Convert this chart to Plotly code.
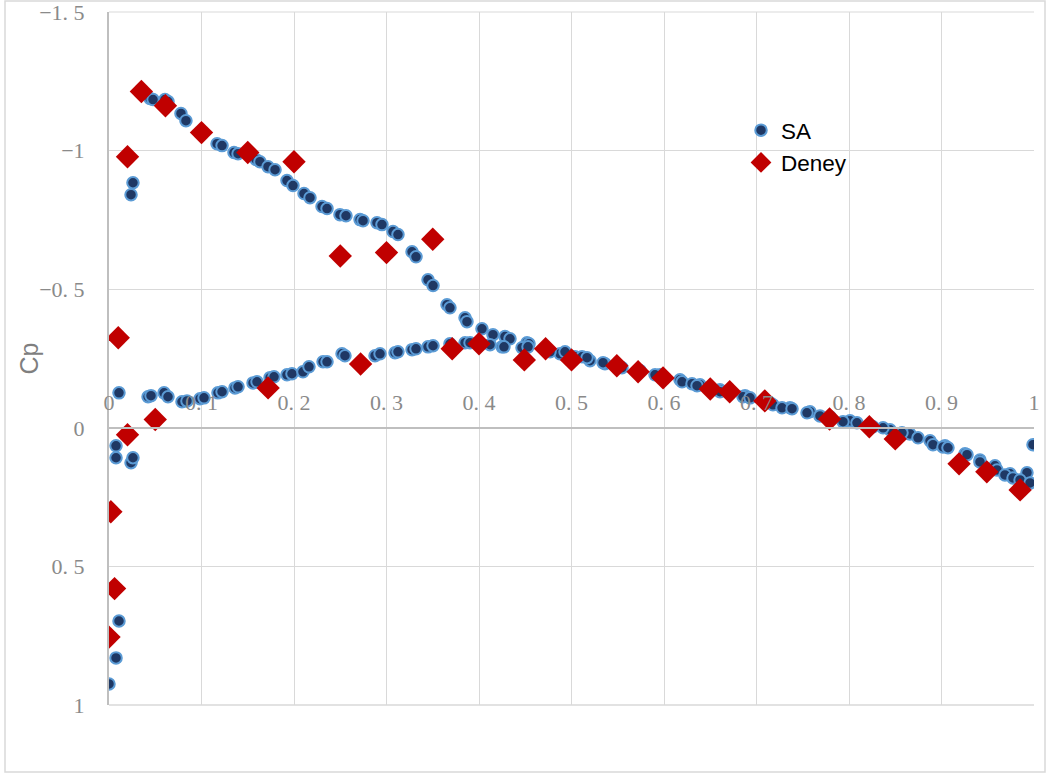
import plotly.graph_objects as go

# ---- pressure coefficient data ----
# SA (CFD) - suction side incl. leading-edge points
sa_upper_x = [0.0, 0.0076, 0.0108, 0.0076, 0.0076, 0.0238, 0.0259, 0.0108, 0.0238, 0.0259,
              0.0443, 0.0476, 0.0605, 0.0638, 0.0778, 0.0832, 0.1168, 0.1222, 0.1351, 0.1395,
              0.1589, 0.1632, 0.1719, 0.1795, 0.1924, 0.1989, 0.2108, 0.2173, 0.2303, 0.2357,
              0.2497, 0.2562, 0.2714, 0.2746, 0.2897, 0.2951, 0.3070, 0.3124, 0.3276, 0.3319,
              0.3449, 0.3503, 0.3654, 0.3686, 0.3849, 0.3870, 0.4032, 0.4151, 0.4281, 0.4335,
              0.4519, 0.4541, 0.4714, 0.4876, 0.5038, 0.5200, 0.5362, 0.5524, 0.5741, 0.5957,
              0.6173, 0.6389, 0.6605, 0.6876, 0.7146, 0.7362, 0.7578, 0.7795, 0.8011, 0.8227,
              0.8443, 0.8659, 0.8876, 0.9038, 0.9254, 0.9416, 0.9578, 0.9741, 0.9924, 0.9989]
sa_upper_cp = [0.924, 0.830, 0.697, 0.065, 0.108, 0.126, 0.108, -0.126, -0.841, -0.884,
               -1.188, -1.184, -1.184, -1.177, -1.134, -1.108, -1.025, -1.018, -0.993, -0.989,
               -0.968, -0.960, -0.942, -0.931, -0.892, -0.874, -0.845, -0.830, -0.798, -0.791,
               -0.769, -0.765, -0.751, -0.747, -0.740, -0.733, -0.708, -0.697, -0.635, -0.617,
               -0.534, -0.513, -0.444, -0.433, -0.397, -0.383, -0.357, -0.336, -0.329, -0.321,
               -0.307, -0.303, -0.282, -0.267, -0.256, -0.242, -0.231, -0.220, -0.206, -0.191,
               -0.173, -0.155, -0.137, -0.116, -0.090, -0.072, -0.058, -0.040, -0.025, -0.007,
               0.007, 0.022, 0.047, 0.065, 0.094, 0.116, 0.137, 0.166, 0.162, 0.061]

# SA (CFD) - pressure side
sa_lower_x = [0.0422, 0.0454, 0.0595, 0.0638, 0.0789, 0.0843, 0.0984, 0.1027, 0.1178, 0.1222,
              0.1362, 0.1395, 0.1557, 0.1600, 0.1741, 0.1784, 0.1924, 0.1978, 0.2097, 0.2162,
              0.2314, 0.2357, 0.2519, 0.2551, 0.2876, 0.2930, 0.3092, 0.3124, 0.3276, 0.3319,
              0.3449, 0.3503, 0.3686, 0.3849, 0.3903, 0.4119, 0.4249, 0.4270, 0.4465, 0.4530,
              0.4768, 0.4930, 0.5114, 0.5168, 0.5341, 0.5546, 0.5741, 0.5903, 0.6195, 0.6303,
              0.6357, 0.6605, 0.6854, 0.6930, 0.7178, 0.7276, 0.7384, 0.7546, 0.7686, 0.7935,
              0.8086, 0.8259, 0.8368, 0.8573, 0.8746, 0.8908, 0.9016, 0.9070, 0.9276, 0.9416,
              0.9600, 0.9686, 0.9773, 0.9849, 0.9957]
sa_lower_cp = [-0.112, -0.116, -0.126, -0.112, -0.094, -0.097, -0.105, -0.108, -0.126, -0.130,
               -0.144, -0.148, -0.162, -0.166, -0.181, -0.184, -0.191, -0.195, -0.202, -0.220,
               -0.238, -0.238, -0.267, -0.260, -0.260, -0.267, -0.271, -0.274, -0.282, -0.285,
               -0.292, -0.296, -0.303, -0.307, -0.307, -0.300, -0.292, -0.292, -0.289, -0.292,
               -0.274, -0.274, -0.256, -0.253, -0.235, -0.217, -0.206, -0.191, -0.166, -0.159,
               -0.152, -0.130, -0.112, -0.108, -0.083, -0.072, -0.069, -0.054, -0.043, -0.022,
               -0.018, -0.004, 0.000, 0.018, 0.036, 0.061, 0.069, 0.072, 0.097, 0.123,
               0.152, 0.170, 0.181, 0.188, 0.199]

# Experiment (Deney)
deney_x = [0.035, 0.061, 0.100, 0.150, 0.200, 0.020, 0.010, 0.250, 0.300, 0.350,
           0.050, 0.020, 0.002, 0.006, 0.000, 0.172, 0.272, 0.371, 0.400, 0.449,
           0.472, 0.500, 0.549, 0.572, 0.599, 0.650, 0.671, 0.709, 0.779, 0.822,
           0.850, 0.919, 0.949, 0.985]
deney_cp = [-1.213, -1.162, -1.065, -0.993, -0.960, -0.978, -0.325, -0.620, -0.632, -0.680,
            -0.030, 0.025, 0.303, 0.580, 0.755, -0.144, -0.230, -0.285, -0.303, -0.245,
            -0.285, -0.245, -0.224, -0.202, -0.180, -0.140, -0.130, -0.097, -0.032, -0.004,
            0.040, 0.130, 0.159, 0.224]

x_ticks = [0, 0.1, 0.2, 0.3, 0.4, 0.5, 0.6, 0.7, 0.8, 0.9, 1]
x_tick_text = ["0", "0. 1", "0. 2", "0. 3", "0. 4", "0. 5", "0. 6", "0. 7", "0. 8", "0. 9", "1"]
y_ticks = [-1.5, -1, -0.5, 0, 0.5, 1]
y_tick_text = ["\u22121. 5", "\u22121", "\u22120. 5", "0", "0. 5", "1"]
y_range = [1, -1.5]

# ---- layout geometry ----
W, H = 1047, 775
ML, MR, MT, MB = 109, 13, 12, 70
plot_w = W - ML - MR
plot_h = H - MT - MB

tick_font = dict(family="Liberation Serif, DejaVu Serif, serif", size=22, color="#8a8a8a")
sans = "Liberation Sans, Arial, sans-serif"
grid_col = "#d9d9d9"
axis_col = "#bfbfbf"

fig = go.Figure()
fig.add_trace(go.Scatter(
    x=sa_upper_x + sa_lower_x, y=sa_upper_cp + sa_lower_cp,
    mode="markers", name="SA",
    marker=dict(symbol="circle", size=11.5, color="#1f3864",
                line=dict(color="#5b9bd5", width=2)),
))
fig.add_trace(go.Scatter(
    x=deney_x, y=deney_cp,
    mode="markers", name="Deney",
    marker=dict(symbol="diamond", size=18, color="#c00000",
                line=dict(color="#c00000", width=0)),
))

# horizontal axis sits on Cp = 0
zero_pos = (y_range[0] - 0) / (y_range[0] - y_range[1])

fig.update_layout(
    width=W, height=H,
    margin=dict(l=ML, r=MR, t=MT, b=MB, autoexpand=False),
    paper_bgcolor="white", plot_bgcolor="white",
    showlegend=True,
    legend=dict(x=(741 - ML) / plot_w, y=(H - MB - 109) / plot_h,
                xanchor="left", yanchor="top",
                font=dict(family=sans, size=22.5, color="#000000"),
                bgcolor="rgba(0,0,0,0)", tracegroupgap=0, itemwidth=30),
    xaxis=dict(range=[0, 1], tickvals=x_ticks, ticktext=x_tick_text,
               anchor="free", position=zero_pos, side="top", automargin=False,
               showgrid=True, gridcolor=grid_col, gridwidth=1,
               showline=True, linecolor=axis_col, linewidth=2,
               zeroline=False, ticks="", tickfont=tick_font,
               ticklabelstandoff=8, ticklabeloverflow="allow"),
    yaxis=dict(range=y_range, tickvals=y_ticks, ticktext=y_tick_text, automargin=False,
               showgrid=True, gridcolor=grid_col, gridwidth=1,
               showline=True, linecolor=axis_col, linewidth=2,
               zeroline=False, ticks="", tickfont=tick_font,
               ticklabelstandoff=18, ticklabeloverflow="allow"),
    annotations=[
        # vertical axis title
        dict(text="Cp", xref="paper", yref="paper",
             x=(28 - ML) / plot_w, y=0.5, xanchor="center", yanchor="middle",
             textangle=-90, showarrow=False,
             font=dict(family=sans, size=25, color="#7f7f7f")),
    ],
    shapes=[
        # outer chart frame
        dict(type="rect", xref="paper", yref="paper",
             x0=(5 - ML) / plot_w, x1=(1045 - ML) / plot_w,
             y0=(H - MB - 772) / plot_h, y1=(H - MB - 1) / plot_h,
             line=dict(color="#d9d9d9", width=1.5), fillcolor="rgba(0,0,0,0)", layer="below"),
        # top and bottom plot edges
        dict(type="line", xref="paper", yref="paper", x0=0, x1=1, y0=1, y1=1,
             line=dict(color=grid_col, width=1), layer="below"),
        dict(type="line", xref="paper", yref="paper", x0=0, x1=1, y0=0, y1=0,
             line=dict(color=grid_col, width=1.5), layer="below"),
    ],
)

fig.write_html("out.html")
